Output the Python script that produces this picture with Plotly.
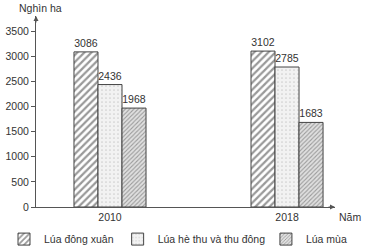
import plotly.graph_objects as go

years = ["2010", "2018"]
series_names = ["Lúa đông xuân", "Lúa hè thu và thu đông", "Lúa mùa"]
dong_xuan = [3086, 3102]
he_thu = [2436, 2785]
lua_mua = [1968, 1683]
y_ticks = [0, 500, 1000, 1500, 2000, 2500, 3000, 3500]

values = [dong_xuan, he_thu, lua_mua]
styles = [
    dict(color="white", pattern=dict(shape="/", fgcolor="#333", size=5, solidity=0.45, bgcolor="white")),
    dict(color="#f0f0f0", pattern=dict(shape=".", fgcolor="#aaa", size=4, solidity=0.15, bgcolor="#f2f2f2")),
    dict(color="#ddd", pattern=dict(shape="/", fgcolor="#555", size=3, solidity=0.35, bgcolor="#e0e0e0")),
]
legend_ids = ["legend", "legend2", "legend3"]

fig = go.Figure()
for name, vals, st, lg in zip(series_names, values, styles, legend_ids):
    fig.add_trace(go.Bar(
        x=years, y=vals, name=name,
        marker=dict(color=st["color"], pattern=st["pattern"], line=dict(color="#444", width=1)),
        text=[str(v) for v in vals], textposition="outside",
        textfont=dict(size=10.5, color="#333"), cliponaxis=False,
        legend=lg,
    ))

font = dict(family="Liberation Sans, Arial, sans-serif", size=10.5, color="#333")
leg_common = dict(orientation="h", yanchor="middle", xanchor="left", font=font,
                  bgcolor="rgba(0,0,0,0)", itemwidth=30)

fig.update_layout(
    width=381, height=252,
    margin=dict(l=36, r=46, t=16, b=45, autoexpand=False),
    paper_bgcolor="white", plot_bgcolor="white",
    font=font,
    barmode="group", bargap=0.593, bargroupgap=0,
    showlegend=True,
    legend=dict(x=-0.107, y=-0.168, **leg_common),
    legend2=dict(x=0.273, y=-0.168, **leg_common),
    legend3=dict(x=0.769, y=-0.168, **leg_common),
    xaxis=dict(type="category", range=[-0.418, 1.271], showline=True, linecolor="#555",
               linewidth=1, ticks="", showgrid=False, tickfont=font, zeroline=False),
    yaxis=dict(range=[0, 3800], tickvals=y_ticks, showline=True, linecolor="#555",
               linewidth=1, ticks="outside", ticklen=4, tickcolor="#555",
               showgrid=False, zeroline=False, tickfont=font),
    annotations=[
        dict(x=0, y=1, xref="paper", yref="paper", ax=0, ay=8, axref="pixel", ayref="pixel",
             text="", showarrow=True, arrowhead=2, arrowsize=1, arrowwidth=1, arrowcolor="#555"),
        dict(x=1, y=0, xref="paper", yref="paper", ax=-8, ay=0, axref="pixel", ayref="pixel",
             text="", showarrow=True, arrowhead=2, arrowsize=1, arrowwidth=1, arrowcolor="#555"),
        dict(x=0, y=1, xref="paper", yref="paper", text="Nghìn ha", showarrow=False,
             xanchor="center", yanchor="bottom", xshift=4, yshift=0, font=font),
        dict(x=1, y=0, xref="paper", yref="paper", text="Năm", showarrow=False,
             xanchor="left", yanchor="top", xshift=2, yshift=-2, font=font),
    ],
)

fig.write_html("out.html")
